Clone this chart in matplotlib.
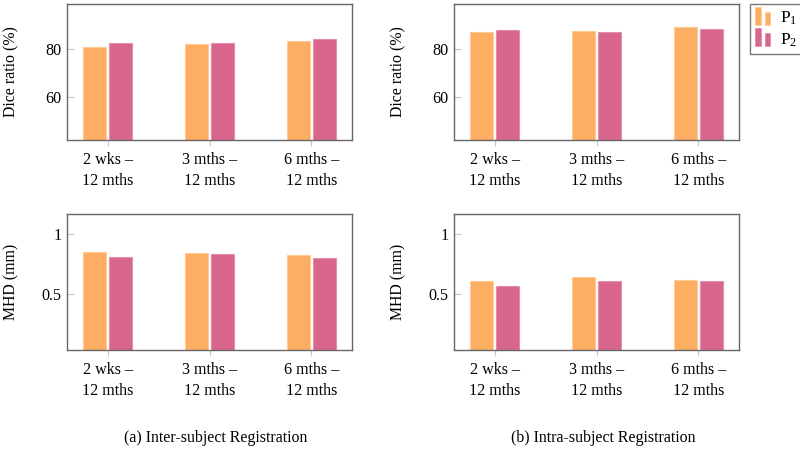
import matplotlib
matplotlib.use("Agg")
import matplotlib.pyplot as plt
import numpy as np
from matplotlib.patches import Rectangle
from matplotlib.legend_handler import HandlerBase

plt.rcParams['font.family'] = ['Liberation Serif', 'DejaVu Serif']
plt.rcParams['mathtext.fontset'] = 'custom'
plt.rcParams['mathtext.rm'] = 'Liberation Serif'
plt.rcParams['mathtext.it'] = 'Liberation Serif:italic'

categories = ["2 wks –\n12 mths", "3 mths –\n12 mths", "6 mths –\n12 mths"]
series_names = ["P$_1$", "P$_2$"]

dice_inter_p1 = [80.8, 82.0, 83.3]
dice_inter_p2 = [82.5, 82.2, 84.0]
dice_intra_p1 = [86.7, 87.1, 88.9]
dice_intra_p2 = [87.6, 86.9, 88.0]

mhd_inter_p1 = [0.851, 0.843, 0.823]
mhd_inter_p2 = [0.810, 0.834, 0.800]
mhd_intra_p1 = [0.610, 0.640, 0.620]
mhd_intra_p2 = [0.569, 0.610, 0.610]

fill_colors = ["#FEAE63", "#D8658C"]
edge_colors = ["#FFCB92", "#E58DAC"]

fig = plt.figure(figsize=(8, 4.5), dpi=100)
W, H = 800, 450

def add_ax(x0, x1, y0, y1):
    return fig.add_axes([x0 / W, 1 - y1 / H, (x1 - x0) / W, (y1 - y0) / H])

axes = {
    "tl": add_ax(67, 352, 4, 140),
    "tr": add_ax(454, 739, 4, 140),
    "bl": add_ax(67, 352, 214, 350),
    "br": add_ax(454, 739, 214, 350),
}

data = {
    "tl": (dice_inter_p1, dice_inter_p2),
    "tr": (dice_intra_p1, dice_intra_p2),
    "bl": (mhd_inter_p1, mhd_inter_p2),
    "br": (mhd_intra_p1, mhd_intra_p2),
}

x = np.arange(len(categories))
bw = 0.23
offs = [-0.128, 0.128]
FS = 11.6

for key, ax in axes.items():
    vals = data[key]
    is_dice = key in ("tl", "tr")
    base = 42.0 if is_dice else 0.036
    for i, v in enumerate(vals):
        ax.bar(x + offs[i], np.array(v) - base, bw, bottom=base,
               color=fill_colors[i], edgecolor=edge_colors[i], linewidth=0.8,
               label=series_names[i], zorder=2)
    ax.set_xlim(-0.4, 2.4)
    if is_dice:
        ax.set_ylim(42.0, 98.5)
        ax.set_yticks([60, 80])
        ax.set_yticklabels(["60", "80"])
        ax.set_ylabel("Dice ratio (%)", fontsize=11.4)
    else:
        ax.set_ylim(0.036, 1.163)
        ax.set_yticks([0.5, 1.0])
        ax.set_yticklabels(["0.5", "1"])
        ax.set_ylabel("MHD (mm)", fontsize=11.4)
    ax.set_xticks(x)
    ax.set_xticklabels(categories, fontsize=FS, linespacing=1.4)
    ax.tick_params(axis='y', direction='in', length=5, color="#C8C8C8",
                   labelsize=FS, pad=4)
    ax.tick_params(axis='x', direction='out', length=4, color="#C8C8C8",
                   labelsize=FS, pad=5)
    for s in ax.spines.values():
        s.set_color("#666666")
        s.set_linewidth(1.0)
    ax.yaxis.set_label_coords(-0.166, 0.5)


class TwoBarHandler(HandlerBase):
    def create_artists(self, legend, orig_handle, xdescent, ydescent,
                       width, height, fontsize, trans):
        fc = orig_handle.get_facecolor()
        ec = orig_handle.get_edgecolor()
        arts = []
        bwid = width * 0.3
        for xx, hh in [(0.0, 1.15), (0.5, 0.85)]:
            r = Rectangle((xx * width - xdescent, -ydescent), bwid, height * hh,
                          facecolor=fc, edgecolor=ec, linewidth=0.6,
                          transform=trans)
            arts.append(r)
        return arts


handles, labels = axes["tr"].get_legend_handles_labels()
hs = [h.patches[0] for h in handles]
leg = fig.legend(hs, labels, loc="upper left",
                 bbox_to_anchor=(750 / W, 1 - 4 / H),
                 handler_map={type(hs[0]): TwoBarHandler()},
                 fontsize=12.5, frameon=True, fancybox=False,
                 handlelength=1.1, handleheight=1.0, handletextpad=0.3,
                 borderpad=0.3, labelspacing=0.2, borderaxespad=0.0)
leg.get_frame().set_edgecolor("#555555")
leg.get_frame().set_linewidth(1.0)

fig.text(216 / W, 1 - 438 / H, "(a) Inter-subject Registration",
         ha="center", va="center", fontsize=11.4)
fig.text(603 / W, 1 - 438 / H, "(b) Intra-subject Registration",
         ha="center", va="center", fontsize=11.4)

fig.savefig("out.png", dpi=100)
